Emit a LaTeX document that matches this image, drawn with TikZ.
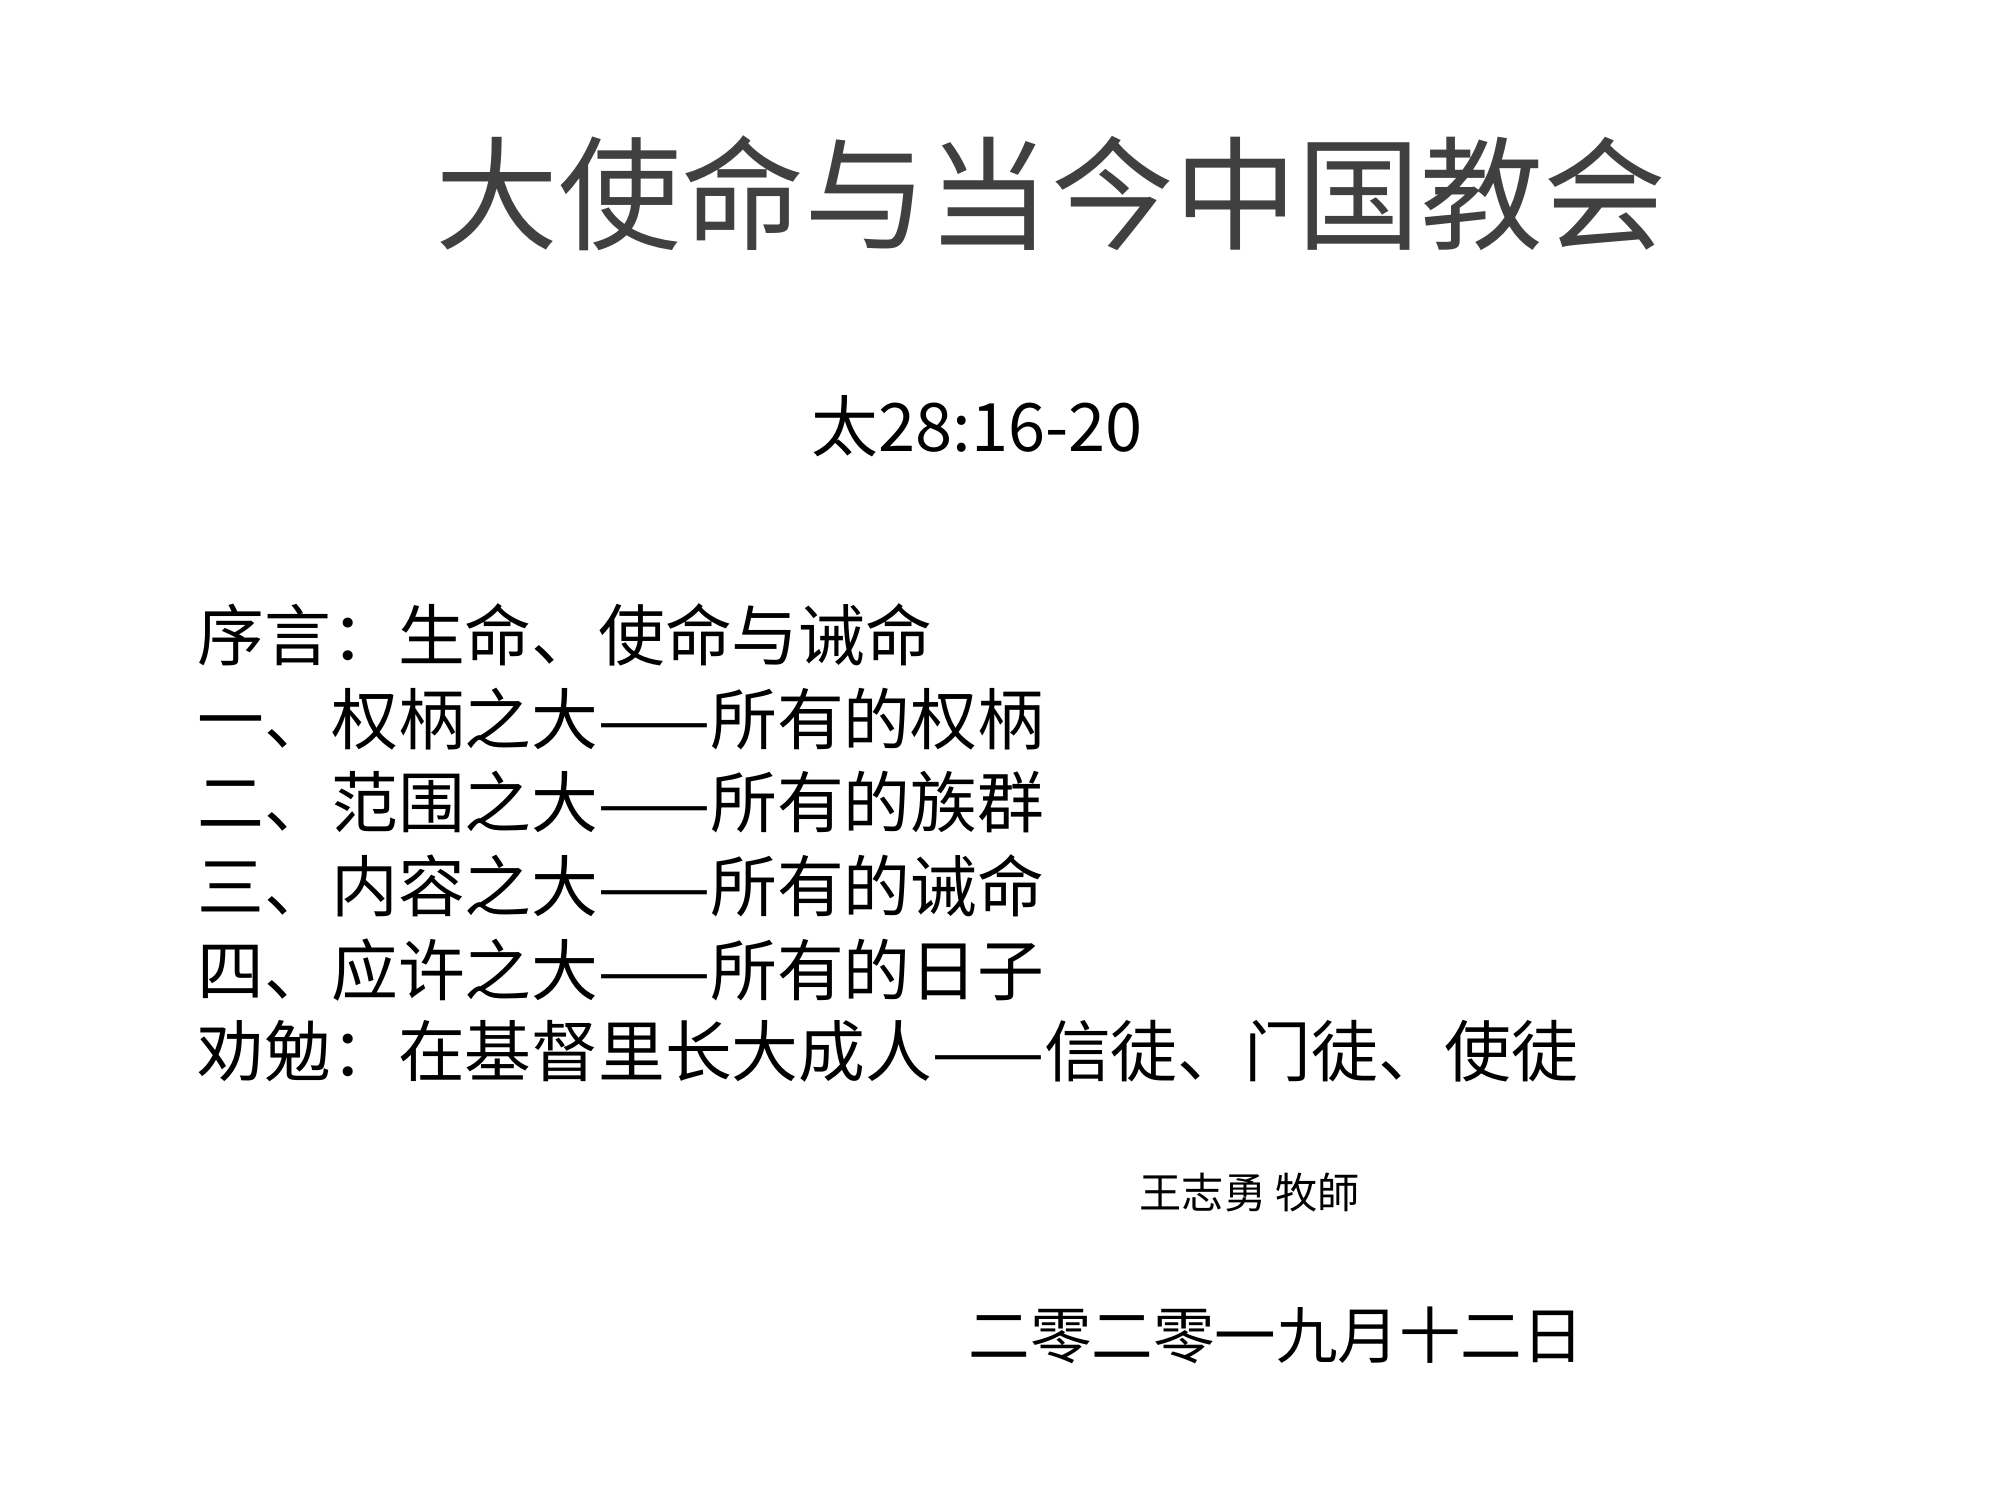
\documentclass[tikz,border=0pt]{standalone}
\usepackage{fontspec}
\setmainfont{Noto Sans CJK SC}
\usetikzlibrary{positioning}
\definecolor{titlegray}{HTML}{404040}
\tikzset{
  titletext/.style = {text=titlegray, font=\fontsize{35}{40}\selectfont, inner sep=0pt},
  reftext/.style = {font=\fontsize{19}{23}\selectfont, inner sep=0pt},
  bodyline/.style = {anchor=west, font=\fontsize{19}{23}\selectfont, inner sep=0pt},
  signtext/.style = {anchor=west, font=\fontsize{12}{14}\selectfont, inner sep=0pt},
  datetext/.style = {anchor=west, font=\fontsize{17.5}{21}\selectfont, inner sep=0pt}
}
\begin{document}
\begin{tikzpicture}
  \useasboundingbox (0,0) rectangle (20,15);
  \node (Title) [titletext] at (10.51,13.07) {大使命与当今中国教会};
  \node (Verse) [reftext] at (9.77,10.74) {太28:16-20};

  \node (Line01) [bodyline] at (1.97,8.65) {序言：生命、使命与诫命};
  \node (Line02) [bodyline] at (1.97,7.81) {一、权柄之大——所有的权柄};
  \node (Line03) [bodyline] at (1.97,6.98) {二、范围之大——所有的族群};
  \node (Line04) [bodyline] at (1.97,6.14) {三、内容之大——所有的诫命};
  \node (Line05) [bodyline] at (1.97,5.30) {四、应许之大——所有的日子};
  \node (Line06) [bodyline] at (1.97,4.49) {劝勉：在基督里长大成人——信徒、门徒、使徒};

  \node (Author) [signtext] at (11.39,3.07) {王志勇 牧師};
  \node (Date) [datetext] at (9.68,1.65) {二零二零一九月十二日};
\end{tikzpicture}
\end{document}
